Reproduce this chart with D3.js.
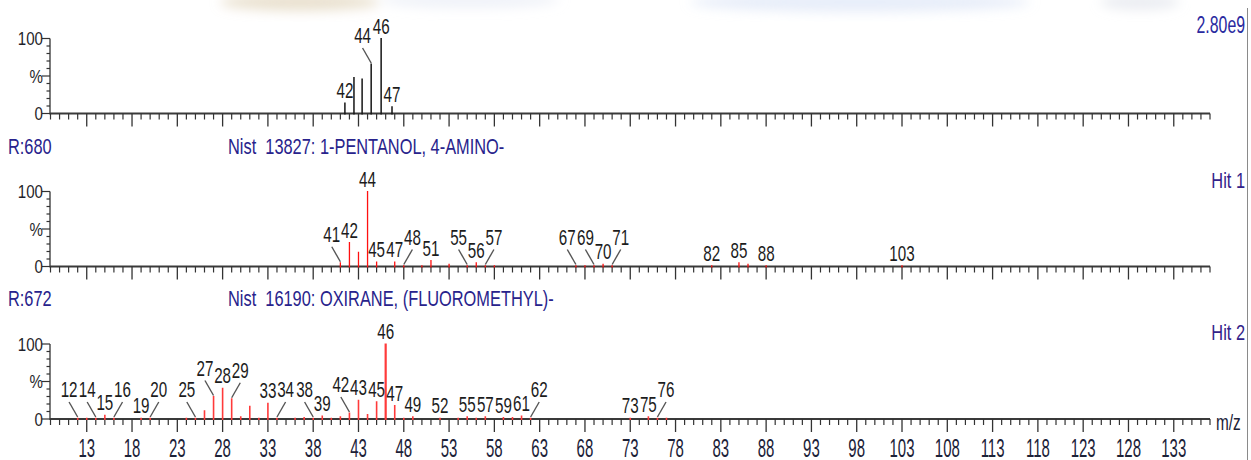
<!DOCTYPE html>
<html>
<head>
<meta charset="utf-8">
<script src="https://cdn.jsdelivr.net/npm/d3@7"></script>
<style>
  html, body { margin: 0; padding: 0; background: #ffffff; overflow: hidden; }
  svg { display: block; }
  text { font-family: "Liberation Sans", Arial, sans-serif; white-space: pre; }
</style>
</head>
<body>
<svg id="chart" width="1251" height="460"></svg>
<script>
// ---- Sample spectrum (measured masses, % of base peak) ----
const sampleMz        = [41.5, 42.5, 43.4, 44.4, 45.5, 46.7];
const sampleIntensity = [14, 48, 46, 66, 100, 9];
const sampleLabelled  = [41.5, 44.4, 45.5, 46.7];

// ---- Library hit 1: NIST 13827, 1-pentanol, 4-amino- ----
const hit1Mz        = [41, 42, 43, 44, 45, 47, 48, 50, 51, 53, 55, 56, 57, 58, 67, 68, 69, 70, 71, 82, 85, 86, 88, 103];
const hit1Intensity = [5, 32, 19, 100, 6, 6, 1, 1, 8, 3, 1, 5, 1, 1, 1, 1, 1, 3, 1, 1, 5, 3, 1, 1];
const hit1Labelled  = [41, 42, 44, 45, 47, 48, 51, 55, 56, 57, 67, 69, 70, 71, 82, 85, 88, 103];

// ---- Library hit 2: NIST 16190, oxirane, (fluoromethyl)- ----
const hit2Mz        = [12, 13, 14, 15, 16, 19, 20, 24, 25, 26, 27, 28, 29, 30, 31, 32, 33, 34, 36, 37, 38, 39, 40, 41, 42, 43, 44, 45, 46, 47, 48, 49, 52, 54, 55, 56, 57, 59, 60, 61, 62, 73, 75, 76, 77];
const hit2Intensity = [1, 1, 1, 5, 1, 1, 1, 1, 1, 11, 30, 41, 27, 3, 17, 1, 21, 1, 1, 2, 1, 4, 1, 3, 8, 25, 6, 23, 100, 18, 1, 3, 1, 1, 3, 1, 3, 2, 2, 4, 1, 1, 3, 1, 1];
const hit2Labelled  = [12, 14, 15, 16, 19, 20, 25, 27, 28, 29, 33, 34, 38, 39, 42, 43, 45, 46, 47, 49, 52, 55, 57, 59, 61, 62, 73, 75, 76];

// ---- Header texts ----
const sampleScale = "2.80e9";
const hit1Header  = { score: "R:680", title: "Nist  13827: 1-PENTANOL, 4-AMINO-", tag: "Hit 1" };
const hit2Header  = { score: "R:672", title: "Nist  16190: OXIRANE, (FLUOROMETHYL)-", tag: "Hit 2" };

// ---- Axis ticks ----
const mzDomain      = [9, 137];
const mzMajorTicks  = d3.range(13, 134, 5);
const mzMinorTicks  = d3.range(9, 138, 1);
const pctTicks      = d3.range(0, 101, 10);
const pctTickLabels = [[100, "100"], [50, "%"], [0, "0"]];

// Label placement: side on which a crowded label is pushed (leader line drawn)
const labelLean = {
  sample: { 44.4: -1 },
  hit1:   { 41: -1, 48: 1, 55: -1, 57: 1, 67: -1, 69: -1, 71: 1 },
  hit2:   { 12: -1, 14: -1, 16: 1, 20: 1, 25: -1, 27: -1, 29: 1, 34: 1, 38: -1, 42: -1, 62: 1, 76: 1 }
};

// ---------------------------------------------------------------
const svg = d3.select("#chart");
const W = 1251, H = 460;

// faint background artwork along the top edge
const defs = svg.append("defs");
defs.append("filter").attr("id", "soft").attr("x", "-50%").attr("y", "-50%").attr("width", "200%").attr("height", "200%")
  .append("feGaussianBlur").attr("stdDeviation", 6);
const bg = svg.append("g").attr("filter", "url(#soft)");
bg.append("ellipse").attr("cx", 300).attr("cy", 2).attr("rx", 80).attr("ry", 9).attr("fill", "#d9c9a8").attr("opacity", 0.55);
bg.append("ellipse").attr("cx", 470).attr("cy", 0).attr("rx", 90).attr("ry", 8).attr("fill", "#dfe6f2").attr("opacity", 0.5);
bg.append("ellipse").attr("cx", 860).attr("cy", 2).attr("rx", 170).attr("ry", 10).attr("fill", "#cfdcf3").attr("opacity", 0.5);
bg.append("ellipse").attr("cx", 1140).attr("cy", 2).attr("rx", 40).attr("ry", 8).attr("fill", "#d8dce6").attr("opacity", 0.5);

const x = d3.scaleLinear().domain(mzDomain).range([50.5, 1210]);

const panels = [
  { key: "sample", mz: sampleMz, val: sampleIntensity, labelled: sampleLabelled, y0: 113.5, color: "#151515", sw: 1.5 },
  { key: "hit1",   mz: hit1Mz,   val: hit1Intensity,   labelled: hit1Labelled,   y0: 266.5, color: "#ff1010", sw: 1.3 },
  { key: "hit2",   mz: hit2Mz,   val: hit2Intensity,   labelled: hit2Labelled,   y0: 419,   color: "#ff3a3a", sw: 1.6 }
];
const plotH = 75;

// condensed text helper
function label(g, px, py, str, o) {
  return g.append("g").attr("transform", `translate(${px},${py})`)
    .append("text")
    .attr("transform", `scale(${o.sx},1)`)
    .attr("text-anchor", o.anchor || "middle")
    .attr("font-size", o.size)
    .attr("fill", o.fill)
    .attr("xml:space", "preserve")
    .text(str);
}

const peakFont = { size: 22, sx: 0.69, fill: "#1c1c1c" };

panels.forEach((p) => {
  const y = d3.scaleLinear().domain([0, 100]).range([p.y0, p.y0 - plotH]);
  const g = svg.append("g");

  // y axis
  g.append("line").attr("x1", 50).attr("x2", 50).attr("y1", y(0) + 1).attr("y2", y(100))
    .attr("stroke", "#333").attr("stroke-width", 1.3);
  g.selectAll(".yt").data(pctTicks).join("line")
    .attr("x1", d => d % 50 === 0 ? 42 : 46.5).attr("x2", 50)
    .attr("y1", d => y(d)).attr("y2", d => y(d))
    .attr("stroke", "#333").attr("stroke-width", 1.2);
  pctTickLabels.forEach(([v, s]) => {
    label(g, 43, y(v) + 6.5, s, { size: 18, sx: 0.84, fill: "#1f1f2a", anchor: "end" });
  });

  // x axis line and ticks
  g.append("line").attr("x1", 50).attr("x2", 1210).attr("y1", p.y0).attr("y2", p.y0)
    .attr("stroke", "#3a3a3a").attr("stroke-width", 2);
  g.selectAll(".xm").data(mzMinorTicks.filter(m => !mzMajorTicks.includes(m))).join("line")
    .attr("x1", d => x(d)).attr("x2", d => x(d))
    .attr("y1", p.y0).attr("y2", p.y0 + 6)
    .attr("stroke", "#333").attr("stroke-width", 1.2);
  g.selectAll(".xM").data(mzMajorTicks).join("line")
    .attr("x1", d => x(d)).attr("x2", d => x(d))
    .attr("y1", p.y0).attr("y2", p.y0 + 13)
    .attr("stroke", "#333").attr("stroke-width", 1.3);

  // peaks
  const peaks = p.mz.map((m, i) => ({ mz: m, v: p.val[i] }));
  g.selectAll(".pk").data(peaks).join("line")
    .attr("x1", d => x(d.mz)).attr("x2", d => x(d.mz))
    .attr("y1", p.y0 + 1).attr("y2", d => y(d.v) - 0.5)
    .attr("stroke", p.color)
    .attr("stroke-width", d => (p.key === "hit2" && d.v === 100) ? 2.2 : p.sw);

  // peak labels
  const lean = labelLean[p.key];
  peaks.filter(d => p.labelled.includes(d.mz)).forEach(d => {
    const top = Math.min(y(d.v), p.y0 - 1);
    const side = lean[d.mz] || 0;
    const txt = String(Math.round(d.mz));
    if (side !== 0) {
      const lx = x(d.mz + side * 0.95);
      g.append("line")
        .attr("x1", x(d.mz)).attr("y1", top - 1)
        .attr("x2", lx).attr("y2", top - 16)
        .attr("stroke", "#555").attr("stroke-width", 1.4);
      label(g, lx, top - 21, txt, peakFont);
    } else {
      label(g, x(d.mz), top - 5, txt, peakFont);
    }
  });
});

// m/z tick labels under the last panel
const lastY0 = panels[2].y0;
mzMajorTicks.forEach(m => {
  label(svg, x(m), lastY0 + 37.5, String(m), { size: 25, sx: 0.6, fill: "#1c2238" });
});
label(svg, 1216, lastY0 + 11, "m/z", { size: 22, sx: 0.7, fill: "#1c2238", anchor: "start" });

// headers
const headFont = { size: 22, sx: 0.745, fill: "#28238c" };
label(svg, 1245, 33, sampleScale, Object.assign({}, headFont, { anchor: "end", fill: "#2a2aa0", size: 24, sx: 0.66 }));
[[hit1Header, panels[1].y0], [hit2Header, panels[2].y0]].forEach(([h, y0]) => {
  const top = y0 - plotH;
  label(svg, 8, top - 38, h.score, Object.assign({}, headFont, { anchor: "start" }));
  label(svg, 228, top - 38, h.title, Object.assign({}, headFont, { anchor: "start" }));
  label(svg, 1245, top - 4, h.tag, Object.assign({}, headFont, { anchor: "end", fill: "#33238a" }));
});

// right frame edge
svg.append("line").attr("x1", 1247.5).attr("x2", 1247.5).attr("y1", 8).attr("y2", H)
  .attr("stroke", "#8a8a8a").attr("stroke-width", 1);
</script>
</body>
</html>
